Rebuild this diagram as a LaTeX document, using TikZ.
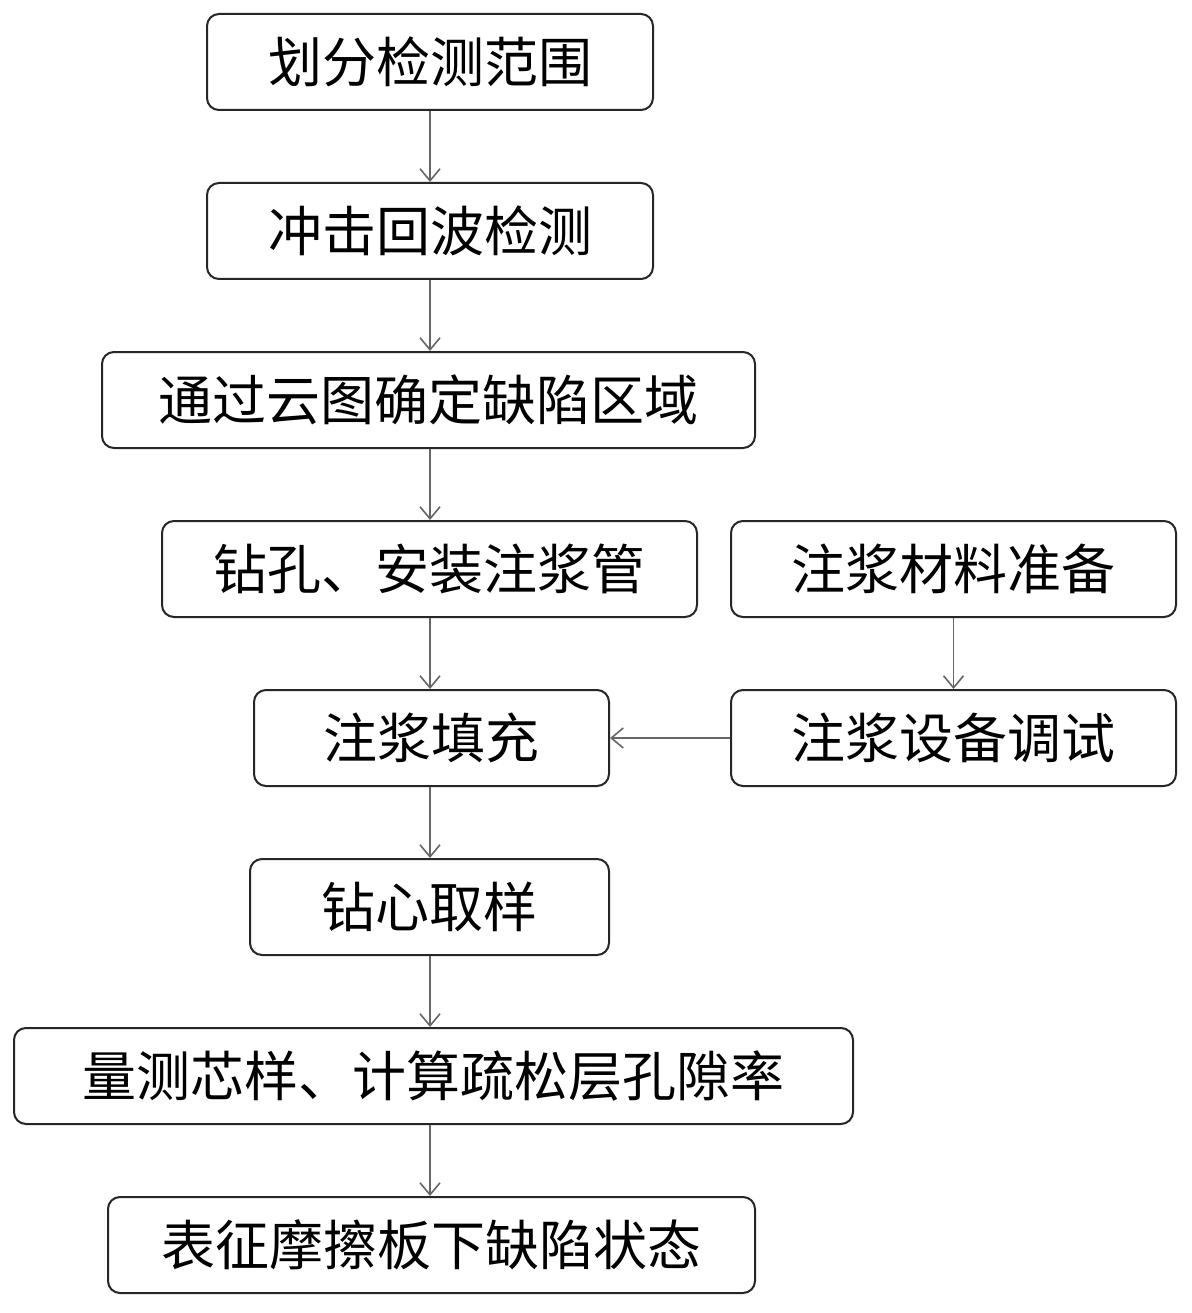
\documentclass[tikz,border=0pt]{standalone}
\usepackage{fontspec}
\newfontfamily\cjk{Noto Sans CJK SC}
\usetikzlibrary{arrows.meta}
\begin{document}
\begin{tikzpicture}[x=1pt,y=-1pt,
  box/.style={draw=black!85,line width=2pt,rounded corners=12pt,inner sep=0pt,font=\cjk\fontsize{54}{60}\selectfont},
  arr/.style={draw=black!60,line width=1.6pt,-{Straight Barb[length=12pt,width=20pt]}}]
\useasboundingbox (0,0) rectangle (1191,1313);
\newcommand\bx[6]{\node[box,minimum width=#4-#2,minimum height=96pt] (#1) at ({(#2+#4)/2},{#3+48}) {#6};}
\bx{a}{207}{14}{653}{}{划分检测范围}
\bx{b}{207}{183}{653}{}{冲击回波检测}
\bx{c}{102}{352}{755}{}{通过云图确定缺陷区域}
\bx{d}{162}{521}{697}{}{钻孔、安装注浆管}
\bx{e}{731}{521}{1176}{}{注浆材料准备}
\bx{f}{254}{690}{609}{}{注浆填充}
\bx{g}{731}{690}{1176}{}{注浆设备调试}
\bx{h}{250}{859}{609}{}{钻心取样}
\bx{i}{14}{1028}{853}{}{量测芯样、计算疏松层孔隙率}
\bx{j}{108}{1197}{755}{}{表征摩擦板下缺陷状态}
\draw[arr] (a.south -| 430,0) -- (b.north -| 430,0);
\draw[arr] (b.south -| 430,0) -- (c.north -| 430,0);
\draw[arr] (c.south -| 430,0) -- (d.north -| 430,0);
\draw[arr] (d.south -| 430,0) -- (f.north -| 430,0);
\draw[arr] (f.south -| 430,0) -- (h.north -| 430,0);
\draw[arr] (h.south -| 430,0) -- (i.north -| 430,0);
\draw[arr] (i.south -| 430,0) -- (j.north -| 430,0);
\draw[arr] (e) -- (g);
\draw[arr] (g) -- (f);
\end{tikzpicture}
\end{document}
